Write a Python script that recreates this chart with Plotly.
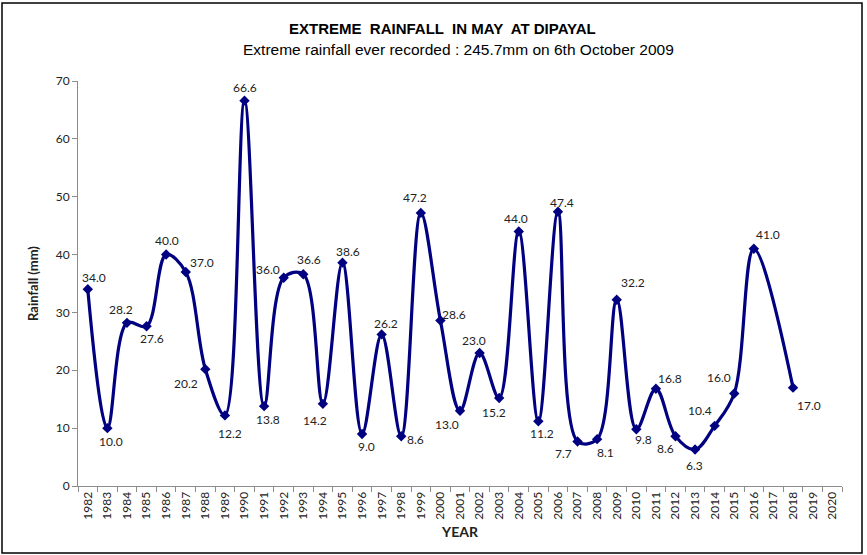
import plotly.graph_objects as go

years = [str(y) for y in range(1982, 2021)]
rainfall = [34.0, 10.0, 28.2, 27.6, 40.0, 37.0, 20.2, 12.2, 66.6, 13.8,
            36.0, 36.6, 14.2, 38.6, 9.0, 26.2, 8.6, 47.2, 28.6, 13.0,
            23.0, 15.2, 44.0, 11.2, 47.4, 7.7, 8.1, 32.2, 9.8, 16.8,
            8.6, 6.3, 10.4, 16.0, 41.0, None, 17.0, None, None]
y_ticks = [0, 10, 20, 30, 40, 50, 60, 70]

# label offsets in pixels (dx right, dy down) relative to each point
label_dx = [6, 4, -6, 5, 1, 16, -19, 5, 0, 4,
            -16, 6, -8, 6, 4, 4, 14, -6, 14, -13,
            -6, -5, -3, 4, 4, -14, 8, 16, 7, 14,
            -10, -1, -15, -15, 14, 0, 16, 0, 0]
label_dy = [-12, 13, -13, 12, -14, -9, 14, 18, -13, 13,
            -8, -15, 17, -11, 13, -11, 3, -15, -6, 14,
            -12, 14, -13, 12, -9, 12, 13, -17, 10, -10,
            12, 16, -15, -16, -14, 0, 18, 0, 0]

FONT = "Lato, Liberation Sans, sans-serif"

fig = go.Figure()
fig.add_trace(go.Scatter(
    x=years, y=rainfall, mode="lines+markers",
    line=dict(color="#000080", width=3.2, shape="spline", smoothing=1.0),
    marker=dict(symbol="diamond", size=8, color="#000080"),
    connectgaps=True, cliponaxis=False, hoverinfo="x+y",
))

for i, (v, dx, dy) in enumerate(zip(rainfall, label_dx, label_dy)):
    if v is None:
        continue
    fig.add_annotation(x=i, y=v, xref="x", yref="y", text=f"{v:.1f}",
                       showarrow=False, xshift=dx, yshift=-dy,
                       xanchor="center", yanchor="middle",
                       font=dict(family=FONT, size=12, color="#222"))

W, H = 867, 555
L, R, T, B = 78, 842, 81, 486
fig.update_layout(
    width=W, height=H,
    margin=dict(l=L, r=W - R, t=T, b=H - B, autoexpand=False),
    paper_bgcolor="white", plot_bgcolor="white",
    showlegend=False,
    xaxis=dict(type="category", categoryorder="array", categoryarray=years,
               range=[-0.5, len(years) - 0.5],
               showgrid=False, zeroline=False,
               showline=True, linecolor="#8c8c8c", linewidth=1,
               ticks="outside", ticklen=5, tickcolor="#8c8c8c", tickson="boundaries",
               tickangle=-90, tickfont=dict(family=FONT, size=12, color="#222"),
               title=dict(text="<b>YEAR</b>", font=dict(family=FONT, size=14, color="#222"), standoff=8)),
    yaxis=dict(range=[0, 70], tickvals=y_ticks,
               showgrid=False, zeroline=False,
               showline=True, linecolor="#8c8c8c", linewidth=1,
               ticks="outside", ticklen=5, tickcolor="#8c8c8c",
               tickfont=dict(family=FONT, size=12, color="#222"),
               title=dict(text="<b>Rainfall (mm)</b>", font=dict(family=FONT, size=13, color="#222"), standoff=14)),
)

pw, ph = R - L, B - T
def px(x): return (x - L) / pw
def py(y): return (B - y) / ph

fig.add_annotation(text="<b>EXTREME  RAINFALL  IN MAY  AT DIPAYAL</b>", xref="paper", yref="paper",
                   x=px(442), y=py(28), showarrow=False, xanchor="center", yanchor="middle",
                   font=dict(family="Liberation Sans, Arial, sans-serif", size=15, color="black"))
fig.add_annotation(text="Extreme rainfall ever recorded : 245.7mm on 6th October 2009", xref="paper", yref="paper",
                   x=px(458), y=py(50), showarrow=False, xanchor="center", yanchor="middle",
                   font=dict(family="Liberation Sans, Arial, sans-serif", size=15.5, color="black"))
fig.add_shape(type="rect", xref="paper", yref="paper",
              x0=px(2), x1=px(862), y0=py(553), y1=py(3),
              line=dict(color="black", width=1.5), fillcolor="rgba(0,0,0,0)")

fig.write_html("out.html", config={"displayModeBar": False},
               post_script="document.body.style.margin='0';document.body.style.padding='0';")
